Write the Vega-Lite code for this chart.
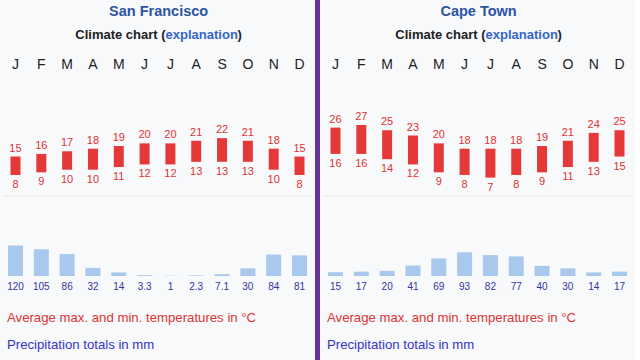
{
  "$schema": "https://vega.github.io/schema/vega-lite/v6.json",
  "background": "#663399",
  "padding": 0,
  "spacing": 5,
  "data": {
    "values": [
      {"city": "San Francisco", "month": "Jan", "letter": "J", "max": 15, "min": 8, "precip": 120},
      {"city": "San Francisco", "month": "Feb", "letter": "F", "max": 16, "min": 9, "precip": 105},
      {"city": "San Francisco", "month": "Mar", "letter": "M", "max": 17, "min": 10, "precip": 86},
      {"city": "San Francisco", "month": "Apr", "letter": "A", "max": 18, "min": 10, "precip": 32},
      {"city": "San Francisco", "month": "May", "letter": "M", "max": 19, "min": 11, "precip": 14},
      {"city": "San Francisco", "month": "Jun", "letter": "J", "max": 20, "min": 12, "precip": 3.3},
      {"city": "San Francisco", "month": "Jul", "letter": "J", "max": 20, "min": 12, "precip": 1},
      {"city": "San Francisco", "month": "Aug", "letter": "A", "max": 21, "min": 13, "precip": 2.3},
      {"city": "San Francisco", "month": "Sep", "letter": "S", "max": 22, "min": 13, "precip": 7.1},
      {"city": "San Francisco", "month": "Oct", "letter": "O", "max": 21, "min": 13, "precip": 30},
      {"city": "San Francisco", "month": "Nov", "letter": "N", "max": 18, "min": 10, "precip": 84},
      {"city": "San Francisco", "month": "Dec", "letter": "D", "max": 15, "min": 8, "precip": 81},
      {"city": "Cape Town", "month": "Jan", "letter": "J", "max": 26, "min": 16, "precip": 15},
      {"city": "Cape Town", "month": "Feb", "letter": "F", "max": 27, "min": 16, "precip": 17},
      {"city": "Cape Town", "month": "Mar", "letter": "M", "max": 25, "min": 14, "precip": 20},
      {"city": "Cape Town", "month": "Apr", "letter": "A", "max": 23, "min": 12, "precip": 41},
      {"city": "Cape Town", "month": "May", "letter": "M", "max": 20, "min": 9, "precip": 69},
      {"city": "Cape Town", "month": "Jun", "letter": "J", "max": 18, "min": 8, "precip": 93},
      {"city": "Cape Town", "month": "Jul", "letter": "J", "max": 18, "min": 7, "precip": 82},
      {"city": "Cape Town", "month": "Aug", "letter": "A", "max": 18, "min": 8, "precip": 77},
      {"city": "Cape Town", "month": "Sep", "letter": "S", "max": 19, "min": 9, "precip": 40},
      {"city": "Cape Town", "month": "Oct", "letter": "O", "max": 21, "min": 11, "precip": 30},
      {"city": "Cape Town", "month": "Nov", "letter": "N", "max": 24, "min": 13, "precip": 14},
      {"city": "Cape Town", "month": "Dec", "letter": "D", "max": 25, "min": 15, "precip": 17}
    ]
  },
  "facet": {
    "column": {"field": "city", "type": "nominal", "sort": ["San Francisco", "Cape Town"], "header": {"title": null, "labels": false, "labelPadding": 0, "titlePadding": 0}}
  },
  "spec": {
    "width": 315,
    "height": 360,
    "resolve": {"scale": {"y": "independent"}},
    "layer": [
      {
        "mark": {"type": "tick", "size": 24, "thickness": 1, "color": "#e2e2e2"},
        "encoding": {
          "x": {"field": "month", "type": "ordinal", "scale": {"type": "point", "domain": ["Jan","Feb","Mar","Apr","May","Jun","Jul","Aug","Sep","Oct","Nov","Dec"], "padding": 0.6}},
          "y": {"datum": 0, "type": "quantitative", "scale": {"domain": [-62.357, 74.525], "nice": false, "zero": false}}
        }
      },
      {
        "mark": {"type": "bar", "width": 10, "color": "#e53838"},
        "encoding": {
          "x": {"field": "month", "type": "ordinal", "scale": {"type": "point", "domain": ["Jan","Feb","Mar","Apr","May","Jun","Jul","Aug","Sep","Oct","Nov","Dec"], "padding": 0.6}},
          "y": {"field": "max", "type": "quantitative", "scale": {"domain": [-62.357, 74.525], "nice": false, "zero": false}},
          "y2": {"field": "min"}
        }
      },
      {
        "mark": {"type": "text", "baseline": "bottom", "dy": -3, "fontSize": 11, "color": "#dd3333"},
        "encoding": {
          "x": {"field": "month", "type": "ordinal", "scale": {"type": "point", "domain": ["Jan","Feb","Mar","Apr","May","Jun","Jul","Aug","Sep","Oct","Nov","Dec"], "padding": 0.6}},
          "y": {"field": "max", "type": "quantitative", "scale": {"domain": [-62.357, 74.525], "nice": false, "zero": false}},
          "text": {"field": "max", "type": "quantitative"}
        }
      },
      {
        "mark": {"type": "text", "baseline": "top", "dy": 4, "fontSize": 11, "color": "#dd3333"},
        "encoding": {
          "x": {"field": "month", "type": "ordinal", "scale": {"type": "point", "domain": ["Jan","Feb","Mar","Apr","May","Jun","Jul","Aug","Sep","Oct","Nov","Dec"], "padding": 0.6}},
          "y": {"field": "min", "type": "quantitative", "scale": {"domain": [-62.357, 74.525], "nice": false, "zero": false}},
          "text": {"field": "min", "type": "quantitative"}
        }
      },
      {
        "mark": {"type": "bar", "width": 15, "color": "#a9c8ee"},
        "encoding": {
          "x": {"field": "month", "type": "ordinal", "scale": {"type": "point", "domain": ["Jan","Feb","Mar","Apr","May","Jun","Jul","Aug","Sep","Oct","Nov","Dec"], "padding": 0.6}},
          "y": {"field": "precip", "type": "quantitative", "scale": {"domain": [-329.4, 1082.4], "nice": false, "zero": false}}
        }
      },
      {
        "mark": {"type": "text", "baseline": "middle", "dy": 11, "fontSize": 10, "color": "#3333a0"},
        "encoding": {
          "x": {"field": "month", "type": "ordinal", "scale": {"type": "point", "domain": ["Jan","Feb","Mar","Apr","May","Jun","Jul","Aug","Sep","Oct","Nov","Dec"], "padding": 0.6}},
          "y": {"datum": 0, "type": "quantitative", "scale": {"domain": [-329.4, 1082.4], "nice": false, "zero": false}},
          "text": {"field": "precip", "type": "quantitative", "format": "~g"}
        }
      },
      {
        "mark": {"type": "text", "baseline": "middle", "fontSize": 14, "color": "#222222"},
        "encoding": {
          "x": {"field": "month", "type": "ordinal", "scale": {"type": "point", "domain": ["Jan","Feb","Mar","Apr","May","Jun","Jul","Aug","Sep","Oct","Nov","Dec"], "padding": 0.6}},
          "y": {"datum": 49.81, "type": "quantitative", "scale": {"domain": [-62.357, 74.525], "nice": false, "zero": false}},
          "text": {"field": "letter", "type": "nominal"}
        }
      },
      {
        "transform": [{"filter": "datum.month == 'Jan'"}],
        "mark": {"type": "text", "baseline": "middle", "align": "center", "dx": 14, "fontSize": 14.5, "fontWeight": "bold", "color": "#2b54a6"},
        "encoding": {
          "x": {"datum": "Jun", "type": "ordinal", "scale": {"type": "point", "domain": ["Jan","Feb","Mar","Apr","May","Jun","Jul","Aug","Sep","Oct","Nov","Dec"], "padding": 0.6}},
          "y": {"datum": 69.96, "type": "quantitative", "scale": {"domain": [-62.357, 74.525], "nice": false, "zero": false}},
          "text": {"field": "city", "type": "nominal"}
        }
      },
      {
        "transform": [{"filter": "datum.month == 'Jan'"}],
        "mark": {"type": "text", "baseline": "middle", "align": "right", "dx": 21, "fontSize": 13, "fontWeight": "bold", "color": "#202122", "text": "Climate chart ("},
        "encoding": {
          "x": {"datum": "Jun", "type": "ordinal", "scale": {"type": "point", "domain": ["Jan","Feb","Mar","Apr","May","Jun","Jul","Aug","Sep","Oct","Nov","Dec"], "padding": 0.6}},
          "y": {"datum": 61.22, "type": "quantitative", "scale": {"domain": [-62.357, 74.525], "nice": false, "zero": false}}
        }
      },
      {
        "transform": [{"filter": "datum.month == 'Jan'"}],
        "mark": {"type": "text", "baseline": "middle", "align": "left", "dx": 21, "fontSize": 13, "fontWeight": "bold", "color": "#3366cc", "text": "explanation"},
        "encoding": {
          "x": {"datum": "Jun", "type": "ordinal", "scale": {"type": "point", "domain": ["Jan","Feb","Mar","Apr","May","Jun","Jul","Aug","Sep","Oct","Nov","Dec"], "padding": 0.6}},
          "y": {"datum": 61.22, "type": "quantitative", "scale": {"domain": [-62.357, 74.525], "nice": false, "zero": false}}
        }
      },
      {
        "transform": [{"filter": "datum.month == 'Jan'"}],
        "mark": {"type": "text", "baseline": "middle", "align": "left", "dx": 93, "fontSize": 13, "fontWeight": "bold", "color": "#202122", "text": ")"},
        "encoding": {
          "x": {"datum": "Jun", "type": "ordinal", "scale": {"type": "point", "domain": ["Jan","Feb","Mar","Apr","May","Jun","Jul","Aug","Sep","Oct","Nov","Dec"], "padding": 0.6}},
          "y": {"datum": 61.22, "type": "quantitative", "scale": {"domain": [-62.357, 74.525], "nice": false, "zero": false}}
        }
      },
      {
        "transform": [{"filter": "datum.month == 'Jan'"}],
        "mark": {"type": "text", "baseline": "middle", "align": "left", "dx": -8.5, "fontSize": 13.2, "color": "#dd3333", "text": "Average max. and min. temperatures in °C"},
        "encoding": {
          "x": {"datum": "Jan", "type": "ordinal", "scale": {"type": "point", "domain": ["Jan","Feb","Mar","Apr","May","Jun","Jul","Aug","Sep","Oct","Nov","Dec"], "padding": 0.6}},
          "y": {"datum": -46.5, "type": "quantitative", "scale": {"domain": [-62.357, 74.525], "nice": false, "zero": false}}
        }
      },
      {
        "transform": [{"filter": "datum.month == 'Jan'"}],
        "mark": {"type": "text", "baseline": "middle", "align": "left", "dx": -8.5, "fontSize": 13.2, "color": "#3333cc", "text": "Precipitation totals in mm"},
        "encoding": {
          "x": {"datum": "Jan", "type": "ordinal", "scale": {"type": "point", "domain": ["Jan","Feb","Mar","Apr","May","Jun","Jul","Aug","Sep","Oct","Nov","Dec"], "padding": 0.6}},
          "y": {"datum": -56.65, "type": "quantitative", "scale": {"domain": [-62.357, 74.525], "nice": false, "zero": false}}
        }
      }
    ]
  },
  "config": {
    "font": "Liberation Sans",
    "view": {"fill": "#f8f9fa", "stroke": null},
    "axis": {"disable": true},
    "legend": {"disable": true}
  }
}
